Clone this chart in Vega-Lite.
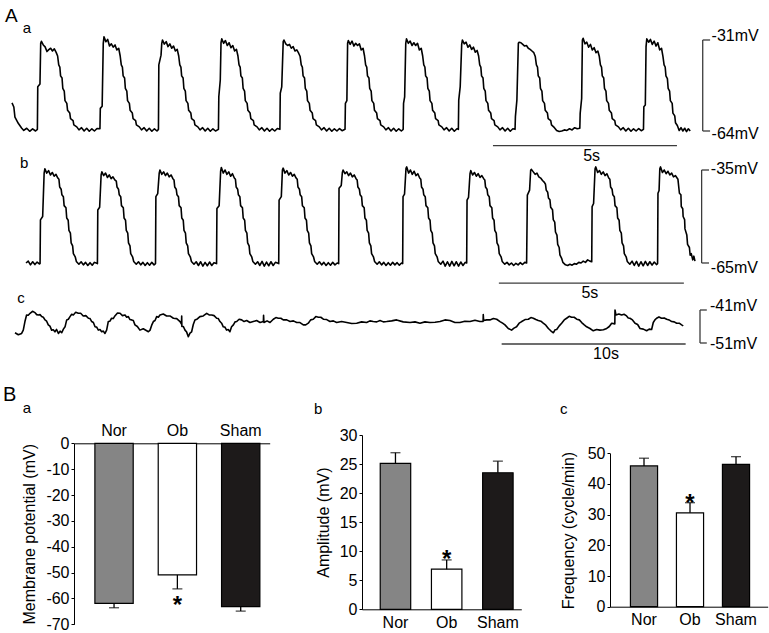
{
  "$schema": "https://vega.github.io/schema/vega-lite/v6.json",
  "padding": 0,
  "background": "white",
  "spacing": 0,
  "bounds": "flush",
  "config": {
    "view": {"stroke": null},
    "font": "Liberation Sans",
    "title": {"font": "Liberation Sans", "fontWeight": "normal", "color": "black", "anchor": "start", "baseline": "alphabetic", "frame": "group"},
    "axis": {"domainColor": "black", "tickColor": "black", "labelColor": "black", "titleColor": "black", "labelFont": "Liberation Sans", "titleFont": "Liberation Sans", "labelFontSize": 16, "titleFontSize": 16, "titleFontWeight": "normal", "tickSize": 3, "labelPadding": 2, "grid": false, "domainWidth": 1, "tickWidth": 1, "labelFlush": false, "labelOverlap": false, "labelBound": false},
    "text": {"font": "Liberation Sans", "color": "black"}
  },
  "datasets": {
    "traceA": [
      {"t":0,"v":-53.8},{"t":0.05,"v":-55.3},{"t":0.08,"v":-59.0},{"t":0.17,"v":-61.2},{"t":0.26,"v":-62.9},{"t":0.32,"v":-63.8},{"t":0.40,"v":-63.0},{"t":0.48,"v":-64.1},{"t":0.56,"v":-63.2},{"t":0.64,"v":-64.0},
      {"t":0.69,"v":-63.4},{"t":0.70,"v":-48.0},{"t":0.76,"v":-47.0},{"t":0.78,"v":-32.2},{"t":0.80,"v":-31.5},{"t":0.85,"v":-32.8},{"t":0.90,"v":-33.5},{"t":0.95,"v":-35.2},{"t":1.00,"v":-34.5},{"t":1.05,"v":-34.0},{"t":1.10,"v":-35.0},{"t":1.15,"v":-34.2},{"t":1.20,"v":-35.5},{"t":1.24,"v":-36.8},{"t":1.27,"v":-40.0},{"t":1.30,"v":-40.8},{"t":1.32,"v":-44.0},{"t":1.36,"v":-44.8},{"t":1.38,"v":-48.5},{"t":1.42,"v":-49.5},{"t":1.44,"v":-53.0},{"t":1.49,"v":-54.0},{"t":1.51,"v":-56.5},{"t":1.57,"v":-57.5},{"t":1.59,"v":-59.5},{"t":1.66,"v":-60.2},{"t":1.68,"v":-61.8},{"t":1.76,"v":-62.5},{"t":1.82,"v":-63.6},{"t":1.89,"v":-62.8},{"t":1.96,"v":-64.0},{"t":2.03,"v":-63.0},{"t":2.10,"v":-64.1},{"t":2.17,"v":-63.2},{"t":2.24,"v":-64.0},{"t":2.31,"v":-63.1},
      {"t":2.39,"v":-63.2},{"t":2.40,"v":-55.8},{"t":2.45,"v":-55.0},{"t":2.48,"v":-32.2},{"t":2.50,"v":-29.8},{"t":2.55,"v":-31.6},{"t":2.60,"v":-30.8},{"t":2.65,"v":-33.2},{"t":2.70,"v":-32.4},{"t":2.75,"v":-33.6},{"t":2.80,"v":-32.8},{"t":2.85,"v":-34.6},{"t":2.90,"v":-34.0},{"t":2.94,"v":-36.8},{"t":2.97,"v":-40.0},{"t":3.00,"v":-40.8},{"t":3.02,"v":-44.0},{"t":3.06,"v":-44.8},{"t":3.08,"v":-48.5},{"t":3.12,"v":-49.5},{"t":3.14,"v":-53.0},{"t":3.19,"v":-54.0},{"t":3.21,"v":-56.5},{"t":3.27,"v":-57.5},{"t":3.29,"v":-59.5},{"t":3.36,"v":-60.2},{"t":3.38,"v":-61.8},{"t":3.46,"v":-62.5},{"t":3.52,"v":-63.6},{"t":3.59,"v":-62.8},{"t":3.66,"v":-64.0},{"t":3.73,"v":-63.0},{"t":3.80,"v":-64.1},{"t":3.87,"v":-63.2},{"t":3.94,"v":-64.0},
      {"t":3.98,"v":-63.4},{"t":3.99,"v":-40.0},{"t":4.05,"v":-36.5},{"t":4.07,"v":-32.2},{"t":4.09,"v":-31.0},{"t":4.14,"v":-32.5},{"t":4.19,"v":-31.6},{"t":4.24,"v":-33.4},{"t":4.29,"v":-32.4},{"t":4.34,"v":-34.0},{"t":4.39,"v":-33.2},{"t":4.44,"v":-35.0},{"t":4.49,"v":-34.4},{"t":4.53,"v":-36.8},{"t":4.56,"v":-40.0},{"t":4.59,"v":-40.8},{"t":4.61,"v":-44.0},{"t":4.65,"v":-44.8},{"t":4.67,"v":-48.5},{"t":4.71,"v":-49.5},{"t":4.73,"v":-53.0},{"t":4.78,"v":-54.0},{"t":4.80,"v":-56.5},{"t":4.86,"v":-57.5},{"t":4.88,"v":-59.5},{"t":4.95,"v":-60.2},{"t":4.97,"v":-61.8},{"t":5.05,"v":-62.5},{"t":5.11,"v":-63.6},{"t":5.18,"v":-62.8},{"t":5.25,"v":-64.0},{"t":5.32,"v":-63.0},{"t":5.39,"v":-64.1},{"t":5.46,"v":-63.2},{"t":5.53,"v":-64.0},
      {"t":5.61,"v":-63.4},{"t":5.62,"v":-51.6},{"t":5.66,"v":-45.5},{"t":5.68,"v":-32.0},{"t":5.70,"v":-30.6},{"t":5.75,"v":-32.2},{"t":5.80,"v":-31.2},{"t":5.85,"v":-33.0},{"t":5.90,"v":-32.0},{"t":5.95,"v":-33.8},{"t":6.00,"v":-33.0},{"t":6.05,"v":-35.0},{"t":6.10,"v":-34.4},{"t":6.14,"v":-36.8},{"t":6.17,"v":-40.0},{"t":6.20,"v":-40.8},{"t":6.22,"v":-44.0},{"t":6.26,"v":-44.8},{"t":6.28,"v":-48.5},{"t":6.32,"v":-49.5},{"t":6.34,"v":-53.0},{"t":6.39,"v":-54.0},{"t":6.41,"v":-56.5},{"t":6.47,"v":-57.5},{"t":6.49,"v":-59.5},{"t":6.56,"v":-60.2},{"t":6.58,"v":-61.8},{"t":6.66,"v":-62.5},{"t":6.72,"v":-63.6},{"t":6.79,"v":-62.8},{"t":6.86,"v":-64.0},{"t":6.93,"v":-63.0},{"t":7.00,"v":-64.1},{"t":7.07,"v":-63.2},{"t":7.14,"v":-64.0},{"t":7.21,"v":-63.1},
      {"t":7.28,"v":-63.4},{"t":7.29,"v":-50.3},{"t":7.33,"v":-48.0},{"t":7.37,"v":-31.6},{"t":7.39,"v":-31.0},{"t":7.44,"v":-32.4},{"t":7.49,"v":-33.0},{"t":7.54,"v":-32.6},{"t":7.59,"v":-34.0},{"t":7.64,"v":-33.4},{"t":7.69,"v":-35.0},{"t":7.74,"v":-34.6},{"t":7.79,"v":-35.8},{"t":7.83,"v":-37.0},{"t":7.86,"v":-40.0},{"t":7.89,"v":-40.8},{"t":7.91,"v":-44.0},{"t":7.95,"v":-44.8},{"t":7.97,"v":-48.5},{"t":8.01,"v":-49.5},{"t":8.03,"v":-53.0},{"t":8.08,"v":-54.0},{"t":8.10,"v":-56.5},{"t":8.16,"v":-57.5},{"t":8.18,"v":-59.5},{"t":8.25,"v":-60.2},{"t":8.27,"v":-61.8},{"t":8.35,"v":-62.5},{"t":8.41,"v":-63.6},{"t":8.48,"v":-62.8},{"t":8.55,"v":-64.0},{"t":8.62,"v":-63.0},{"t":8.69,"v":-64.1},{"t":8.76,"v":-63.2},{"t":8.83,"v":-64.0},{"t":8.90,"v":-63.1},{"t":8.97,"v":-63.9},
      {"t":9.05,"v":-63.4},{"t":9.06,"v":-54.0},{"t":9.10,"v":-53.0},{"t":9.12,"v":-32.2},{"t":9.14,"v":-31.2},{"t":9.19,"v":-32.6},{"t":9.24,"v":-31.4},{"t":9.29,"v":-33.2},{"t":9.34,"v":-32.2},{"t":9.39,"v":-33.0},{"t":9.44,"v":-32.4},{"t":9.49,"v":-34.6},{"t":9.54,"v":-34.0},{"t":9.58,"v":-36.8},{"t":9.61,"v":-40.0},{"t":9.64,"v":-40.8},{"t":9.66,"v":-44.0},{"t":9.70,"v":-44.8},{"t":9.72,"v":-48.5},{"t":9.76,"v":-49.5},{"t":9.78,"v":-53.0},{"t":9.83,"v":-54.0},{"t":9.85,"v":-56.5},{"t":9.91,"v":-57.5},{"t":9.93,"v":-59.5},{"t":10.00,"v":-60.2},{"t":10.02,"v":-61.8},{"t":10.10,"v":-62.5},{"t":10.16,"v":-63.6},{"t":10.23,"v":-62.8},{"t":10.30,"v":-64.0},{"t":10.37,"v":-63.0},{"t":10.44,"v":-64.1},{"t":10.51,"v":-63.2},{"t":10.58,"v":-64.0},
      {"t":10.63,"v":-63.4},{"t":10.64,"v":-54.0},{"t":10.67,"v":-51.6},{"t":10.70,"v":-32.2},{"t":10.72,"v":-30.6},{"t":10.77,"v":-32.2},{"t":10.82,"v":-31.4},{"t":10.87,"v":-33.0},{"t":10.92,"v":-32.0},{"t":10.97,"v":-33.0},{"t":11.02,"v":-32.2},{"t":11.07,"v":-34.6},{"t":11.12,"v":-34.0},{"t":11.16,"v":-36.8},{"t":11.19,"v":-40.0},{"t":11.22,"v":-40.8},{"t":11.24,"v":-44.0},{"t":11.28,"v":-44.8},{"t":11.30,"v":-48.5},{"t":11.34,"v":-49.5},{"t":11.36,"v":-53.0},{"t":11.41,"v":-54.0},{"t":11.43,"v":-56.5},{"t":11.49,"v":-57.5},{"t":11.51,"v":-59.5},{"t":11.58,"v":-60.2},{"t":11.60,"v":-61.8},{"t":11.68,"v":-62.5},{"t":11.74,"v":-63.6},{"t":11.81,"v":-62.8},{"t":11.88,"v":-64.0},{"t":11.95,"v":-63.0},{"t":12.02,"v":-64.1},{"t":12.09,"v":-63.2},
      {"t":12.13,"v":-63.4},{"t":12.14,"v":-52.8},{"t":12.18,"v":-47.9},{"t":12.22,"v":-32.6},{"t":12.24,"v":-31.0},{"t":12.29,"v":-32.4},{"t":12.34,"v":-31.8},{"t":12.39,"v":-33.6},{"t":12.44,"v":-32.8},{"t":12.49,"v":-34.4},{"t":12.54,"v":-33.6},{"t":12.59,"v":-35.4},{"t":12.64,"v":-34.8},{"t":12.68,"v":-36.8},{"t":12.71,"v":-40.0},{"t":12.74,"v":-40.8},{"t":12.76,"v":-44.0},{"t":12.80,"v":-44.8},{"t":12.82,"v":-48.5},{"t":12.86,"v":-49.5},{"t":12.88,"v":-53.0},{"t":12.93,"v":-54.0},{"t":12.95,"v":-56.5},{"t":13.01,"v":-57.5},{"t":13.03,"v":-59.5},{"t":13.10,"v":-60.2},{"t":13.12,"v":-61.8},{"t":13.20,"v":-62.5},{"t":13.26,"v":-63.6},{"t":13.33,"v":-62.8},{"t":13.40,"v":-64.0},{"t":13.47,"v":-63.0},{"t":13.54,"v":-64.1},{"t":13.61,"v":-63.2},
      {"t":13.67,"v":-63.4},{"t":13.68,"v":-58.8},{"t":13.72,"v":-52.8},{"t":13.76,"v":-32.2},{"t":13.78,"v":-31.8},{"t":13.83,"v":-32.0},{"t":13.88,"v":-32.6},{"t":13.93,"v":-33.2},{"t":13.98,"v":-33.0},{"t":14.03,"v":-34.0},{"t":14.08,"v":-34.4},{"t":14.13,"v":-35.0},{"t":14.18,"v":-35.6},{"t":14.22,"v":-37.0},{"t":14.25,"v":-40.0},{"t":14.28,"v":-40.8},{"t":14.30,"v":-44.0},{"t":14.34,"v":-44.8},{"t":14.36,"v":-48.5},{"t":14.40,"v":-49.5},{"t":14.42,"v":-53.0},{"t":14.47,"v":-54.0},{"t":14.49,"v":-56.5},{"t":14.55,"v":-57.5},{"t":14.57,"v":-59.5},{"t":14.64,"v":-60.2},{"t":14.66,"v":-61.8},{"t":14.74,"v":-62.8},{"t":14.80,"v":-63.8},{"t":14.87,"v":-64.2},{"t":14.94,"v":-64.0},{"t":15.01,"v":-63.6},{"t":15.08,"v":-63.8},{"t":15.15,"v":-63.2},{"t":15.22,"v":-63.6},{"t":15.29,"v":-62.8},{"t":15.36,"v":-63.2},
      {"t":15.43,"v":-63.0},{"t":15.44,"v":-57.6},{"t":15.48,"v":-52.2},{"t":15.50,"v":-31.0},{"t":15.52,"v":-30.4},{"t":15.57,"v":-32.4},{"t":15.62,"v":-31.8},{"t":15.67,"v":-33.6},{"t":15.72,"v":-32.6},{"t":15.77,"v":-34.6},{"t":15.82,"v":-33.8},{"t":15.87,"v":-35.6},{"t":15.92,"v":-35.0},{"t":15.96,"v":-37.0},{"t":15.99,"v":-40.0},{"t":16.02,"v":-40.8},{"t":16.04,"v":-44.0},{"t":16.08,"v":-44.8},{"t":16.10,"v":-48.5},{"t":16.14,"v":-49.5},{"t":16.16,"v":-53.0},{"t":16.21,"v":-54.0},{"t":16.23,"v":-56.5},{"t":16.29,"v":-57.5},{"t":16.31,"v":-59.5},{"t":16.38,"v":-60.2},{"t":16.40,"v":-61.8},{"t":16.48,"v":-62.5},{"t":16.54,"v":-63.6},{"t":16.61,"v":-62.8},{"t":16.68,"v":-64.0},{"t":16.75,"v":-63.0},{"t":16.82,"v":-64.1},{"t":16.89,"v":-63.2},{"t":16.96,"v":-64.0},{"t":17.03,"v":-63.1},{"t":17.10,"v":-63.9},
      {"t":17.16,"v":-63.4},{"t":17.17,"v":-55.2},{"t":17.21,"v":-54.6},{"t":17.23,"v":-33.4},{"t":17.25,"v":-30.6},{"t":17.30,"v":-31.8},{"t":17.35,"v":-30.8},{"t":17.40,"v":-32.6},{"t":17.45,"v":-31.4},{"t":17.50,"v":-33.2},{"t":17.55,"v":-32.0},{"t":17.60,"v":-34.6},{"t":17.65,"v":-34.0},{"t":17.69,"v":-37.0},{"t":17.72,"v":-40.0},{"t":17.75,"v":-40.8},{"t":17.77,"v":-44.0},{"t":17.81,"v":-45.0},{"t":17.83,"v":-48.5},{"t":17.87,"v":-49.5},{"t":17.89,"v":-53.0},{"t":17.94,"v":-54.0},{"t":17.96,"v":-57.5},{"t":18.01,"v":-58.5},{"t":18.03,"v":-61.0},{"t":18.08,"v":-62.0},{"t":18.13,"v":-63.8},{"t":18.18,"v":-62.8},{"t":18.23,"v":-64.0},{"t":18.28,"v":-63.0},{"t":18.33,"v":-64.2},{"t":18.38,"v":-63.2},{"t":18.43,"v":-64.0}
    ],
    "traceB": [
      {"t":0,"v":-65.0},{"t":0.06,"v":-64.4},{"t":0.12,"v":-65.6},{"t":0.18,"v":-64.6},{"t":0.24,"v":-65.5},{"t":0.30,"v":-64.7},{"t":0.36,"v":-65.3},
      {"t":0.38,"v":-65.2},{"t":0.39,"v":-51.1},{"t":0.45,"v":-50.0},{"t":0.49,"v":-36.0},{"t":0.51,"v":-34.6},{"t":0.56,"v":-36.0},{"t":0.61,"v":-35.2},{"t":0.66,"v":-36.6},{"t":0.71,"v":-35.8},{"t":0.76,"v":-37.0},{"t":0.81,"v":-36.4},{"t":0.86,"v":-37.6},{"t":0.89,"v":-38.0},{"t":0.91,"v":-40.5},{"t":0.95,"v":-41.2},{"t":0.97,"v":-43.0},{"t":1.01,"v":-43.6},{"t":1.03,"v":-46.5},{"t":1.08,"v":-47.2},{"t":1.10,"v":-50.5},{"t":1.14,"v":-51.2},{"t":1.16,"v":-54.5},{"t":1.20,"v":-55.4},{"t":1.22,"v":-58.5},{"t":1.26,"v":-59.5},{"t":1.28,"v":-62.0},{"t":1.33,"v":-63.0},{"t":1.36,"v":-64.5},{"t":1.43,"v":-65.4},{"t":1.49,"v":-64.6},{"t":1.55,"v":-65.6},{"t":1.61,"v":-64.8},{"t":1.67,"v":-65.8},{"t":1.73,"v":-64.9},{"t":1.79,"v":-65.7},{"t":1.85,"v":-64.8},
      {"t":1.93,"v":-65.2},{"t":1.94,"v":-47.9},{"t":1.99,"v":-47.0},{"t":2.03,"v":-36.6},{"t":2.05,"v":-35.6},{"t":2.10,"v":-36.8},{"t":2.15,"v":-36.0},{"t":2.20,"v":-37.4},{"t":2.25,"v":-36.6},{"t":2.30,"v":-37.8},{"t":2.35,"v":-37.2},{"t":2.40,"v":-38.2},{"t":2.44,"v":-38.6},{"t":2.46,"v":-40.5},{"t":2.50,"v":-41.2},{"t":2.52,"v":-43.0},{"t":2.56,"v":-43.6},{"t":2.58,"v":-46.5},{"t":2.63,"v":-47.2},{"t":2.65,"v":-50.5},{"t":2.69,"v":-51.2},{"t":2.71,"v":-54.5},{"t":2.75,"v":-55.4},{"t":2.77,"v":-58.5},{"t":2.81,"v":-59.5},{"t":2.83,"v":-62.0},{"t":2.88,"v":-63.0},{"t":2.91,"v":-64.5},{"t":2.98,"v":-65.4},{"t":3.04,"v":-64.6},{"t":3.10,"v":-65.6},{"t":3.16,"v":-64.8},{"t":3.22,"v":-65.8},{"t":3.28,"v":-64.9},{"t":3.34,"v":-65.7},{"t":3.40,"v":-64.8},{"t":3.46,"v":-65.6},
      {"t":3.50,"v":-65.2},{"t":3.51,"v":-43.6},{"t":3.56,"v":-42.6},{"t":3.60,"v":-36.0},{"t":3.62,"v":-35.0},{"t":3.67,"v":-36.4},{"t":3.72,"v":-35.6},{"t":3.77,"v":-36.8},{"t":3.82,"v":-36.0},{"t":3.87,"v":-37.2},{"t":3.92,"v":-36.6},{"t":3.97,"v":-37.8},{"t":4.00,"v":-38.2},{"t":4.02,"v":-40.5},{"t":4.06,"v":-41.2},{"t":4.08,"v":-43.0},{"t":4.12,"v":-43.6},{"t":4.14,"v":-46.5},{"t":4.19,"v":-47.2},{"t":4.21,"v":-50.5},{"t":4.25,"v":-51.2},{"t":4.27,"v":-54.5},{"t":4.31,"v":-55.4},{"t":4.33,"v":-58.5},{"t":4.37,"v":-59.5},{"t":4.39,"v":-62.0},{"t":4.44,"v":-63.0},{"t":4.47,"v":-64.5},{"t":4.54,"v":-65.4},{"t":4.60,"v":-64.6},{"t":4.66,"v":-65.8},{"t":4.72,"v":-64.6},{"t":4.78,"v":-66.0},{"t":4.84,"v":-64.8},{"t":4.90,"v":-65.9},{"t":4.96,"v":-64.7},{"t":5.02,"v":-65.8},{"t":5.08,"v":-64.9},
      {"t":5.15,"v":-65.2},{"t":5.16,"v":-47.4},{"t":5.22,"v":-46.5},{"t":5.26,"v":-35.4},{"t":5.28,"v":-34.2},{"t":5.33,"v":-36.0},{"t":5.38,"v":-35.0},{"t":5.43,"v":-36.4},{"t":5.48,"v":-35.6},{"t":5.53,"v":-37.0},{"t":5.58,"v":-36.2},{"t":5.63,"v":-37.6},{"t":5.66,"v":-38.0},{"t":5.68,"v":-40.5},{"t":5.72,"v":-41.2},{"t":5.74,"v":-43.0},{"t":5.78,"v":-43.6},{"t":5.80,"v":-46.5},{"t":5.85,"v":-47.2},{"t":5.87,"v":-50.5},{"t":5.91,"v":-51.2},{"t":5.93,"v":-54.5},{"t":5.97,"v":-55.4},{"t":5.99,"v":-58.5},{"t":6.03,"v":-59.5},{"t":6.05,"v":-62.0},{"t":6.10,"v":-63.0},{"t":6.13,"v":-64.5},{"t":6.20,"v":-65.4},{"t":6.26,"v":-64.6},{"t":6.32,"v":-65.8},{"t":6.38,"v":-64.5},{"t":6.44,"v":-66.0},{"t":6.50,"v":-64.7},{"t":6.56,"v":-65.9},{"t":6.62,"v":-64.6},{"t":6.68,"v":-65.8},{"t":6.74,"v":-64.8},
      {"t":6.83,"v":-65.2},{"t":6.84,"v":-44.7},{"t":6.90,"v":-43.6},{"t":6.93,"v":-35.0},{"t":6.95,"v":-34.4},{"t":7.00,"v":-36.0},{"t":7.05,"v":-35.2},{"t":7.10,"v":-36.6},{"t":7.15,"v":-35.8},{"t":7.20,"v":-37.0},{"t":7.25,"v":-36.4},{"t":7.30,"v":-37.6},{"t":7.33,"v":-38.0},{"t":7.35,"v":-40.5},{"t":7.39,"v":-41.2},{"t":7.41,"v":-43.0},{"t":7.45,"v":-43.6},{"t":7.47,"v":-46.5},{"t":7.52,"v":-47.2},{"t":7.54,"v":-50.5},{"t":7.58,"v":-51.2},{"t":7.60,"v":-54.5},{"t":7.64,"v":-55.4},{"t":7.66,"v":-58.5},{"t":7.70,"v":-59.5},{"t":7.72,"v":-62.0},{"t":7.77,"v":-63.0},{"t":7.80,"v":-64.5},{"t":7.87,"v":-65.4},{"t":7.93,"v":-64.6},{"t":7.99,"v":-65.6},{"t":8.05,"v":-64.8},{"t":8.11,"v":-65.8},{"t":8.17,"v":-64.9},{"t":8.23,"v":-65.7},{"t":8.29,"v":-64.8},{"t":8.35,"v":-65.6},{"t":8.41,"v":-65.0},
      {"t":8.45,"v":-65.2},{"t":8.46,"v":-40.9},{"t":8.52,"v":-40.0},{"t":8.55,"v":-35.8},{"t":8.57,"v":-35.0},{"t":8.62,"v":-36.2},{"t":8.67,"v":-35.6},{"t":8.72,"v":-36.8},{"t":8.77,"v":-36.0},{"t":8.82,"v":-37.2},{"t":8.87,"v":-36.6},{"t":8.92,"v":-37.8},{"t":8.95,"v":-38.2},{"t":8.97,"v":-40.5},{"t":9.01,"v":-41.2},{"t":9.03,"v":-43.0},{"t":9.07,"v":-43.6},{"t":9.09,"v":-46.5},{"t":9.14,"v":-47.2},{"t":9.16,"v":-50.5},{"t":9.20,"v":-51.2},{"t":9.22,"v":-54.5},{"t":9.26,"v":-55.4},{"t":9.28,"v":-58.5},{"t":9.32,"v":-59.5},{"t":9.34,"v":-62.0},{"t":9.39,"v":-63.0},{"t":9.42,"v":-64.5},{"t":9.49,"v":-65.4},{"t":9.55,"v":-64.6},{"t":9.61,"v":-65.6},{"t":9.67,"v":-64.8},{"t":9.73,"v":-65.8},{"t":9.79,"v":-64.9},{"t":9.85,"v":-65.7},{"t":9.91,"v":-64.8},{"t":9.97,"v":-65.6},{"t":10.03,"v":-64.9},{"t":10.09,"v":-65.7},{"t":10.15,"v":-65.0},
      {"t":10.18,"v":-65.2},{"t":10.19,"v":-43.6},{"t":10.23,"v":-42.8},{"t":10.27,"v":-34.5},{"t":10.29,"v":-34.0},{"t":10.34,"v":-36.0},{"t":10.39,"v":-35.0},{"t":10.44,"v":-36.4},{"t":10.49,"v":-35.4},{"t":10.54,"v":-36.8},{"t":10.59,"v":-36.2},{"t":10.64,"v":-37.6},{"t":10.67,"v":-38.0},{"t":10.69,"v":-40.5},{"t":10.73,"v":-41.2},{"t":10.75,"v":-43.0},{"t":10.79,"v":-43.6},{"t":10.81,"v":-46.5},{"t":10.86,"v":-47.2},{"t":10.88,"v":-50.5},{"t":10.92,"v":-51.2},{"t":10.94,"v":-54.5},{"t":10.98,"v":-55.4},{"t":11.00,"v":-58.5},{"t":11.04,"v":-59.5},{"t":11.06,"v":-62.0},{"t":11.11,"v":-63.0},{"t":11.14,"v":-64.5},{"t":11.21,"v":-65.4},{"t":11.27,"v":-64.4},{"t":11.33,"v":-66.0},{"t":11.39,"v":-64.6},{"t":11.45,"v":-66.0},{"t":11.51,"v":-64.5},{"t":11.57,"v":-65.9},{"t":11.63,"v":-64.6},{"t":11.69,"v":-66.0},{"t":11.75,"v":-64.7},{"t":11.81,"v":-65.8},{"t":11.87,"v":-64.8},
      {"t":11.91,"v":-65.0},{"t":11.92,"v":-44.7},{"t":11.96,"v":-43.8},{"t":12.00,"v":-36.2},{"t":12.02,"v":-35.2},{"t":12.07,"v":-36.6},{"t":12.12,"v":-35.8},{"t":12.17,"v":-37.0},{"t":12.22,"v":-36.2},{"t":12.27,"v":-37.4},{"t":12.32,"v":-36.8},{"t":12.37,"v":-37.8},{"t":12.40,"v":-38.2},{"t":12.42,"v":-40.5},{"t":12.46,"v":-41.2},{"t":12.48,"v":-43.0},{"t":12.52,"v":-43.6},{"t":12.54,"v":-46.5},{"t":12.59,"v":-47.2},{"t":12.61,"v":-50.5},{"t":12.65,"v":-51.2},{"t":12.67,"v":-54.5},{"t":12.71,"v":-55.4},{"t":12.73,"v":-58.5},{"t":12.77,"v":-59.5},{"t":12.79,"v":-62.0},{"t":12.84,"v":-63.0},{"t":12.87,"v":-64.5},{"t":12.94,"v":-65.4},{"t":13.00,"v":-64.8},{"t":13.06,"v":-65.6},{"t":13.12,"v":-65.0},{"t":13.18,"v":-65.8},{"t":13.24,"v":-65.1},{"t":13.30,"v":-65.6},{"t":13.36,"v":-64.9},{"t":13.42,"v":-65.5},{"t":13.48,"v":-64.8},
      {"t":13.53,"v":-65.0},{"t":13.55,"v":-43.1},{"t":13.61,"v":-41.5},{"t":13.64,"v":-35.0},{"t":13.66,"v":-34.8},{"t":13.71,"v":-35.6},{"t":13.76,"v":-36.4},{"t":13.81,"v":-36.0},{"t":13.86,"v":-37.2},{"t":13.91,"v":-37.6},{"t":13.96,"v":-38.4},{"t":14.01,"v":-39.0},{"t":14.04,"v":-39.6},{"t":14.06,"v":-41.5},{"t":14.10,"v":-42.2},{"t":14.12,"v":-44.0},{"t":14.16,"v":-44.6},{"t":14.18,"v":-47.0},{"t":14.23,"v":-47.8},{"t":14.25,"v":-51.0},{"t":14.29,"v":-51.8},{"t":14.31,"v":-55.0},{"t":14.35,"v":-56.0},{"t":14.37,"v":-59.0},{"t":14.41,"v":-60.0},{"t":14.43,"v":-62.4},{"t":14.48,"v":-63.6},{"t":14.51,"v":-64.8},{"t":14.58,"v":-65.6},{"t":14.64,"v":-65.8},{"t":14.70,"v":-65.4},{"t":14.76,"v":-65.7},{"t":14.82,"v":-65.2},{"t":14.88,"v":-65.4},{"t":14.94,"v":-64.8},{"t":15.00,"v":-65.0},{"t":15.06,"v":-64.4},{"t":15.12,"v":-64.8},{"t":15.18,"v":-64.0},{"t":15.24,"v":-64.4},
      {"t":15.29,"v":-64.6},{"t":15.30,"v":-46.8},{"t":15.34,"v":-45.8},{"t":15.38,"v":-34.6},{"t":15.40,"v":-34.0},{"t":15.45,"v":-35.8},{"t":15.50,"v":-35.2},{"t":15.55,"v":-36.4},{"t":15.60,"v":-35.6},{"t":15.65,"v":-36.8},{"t":15.70,"v":-36.2},{"t":15.75,"v":-37.6},{"t":15.78,"v":-38.0},{"t":15.80,"v":-40.5},{"t":15.84,"v":-41.2},{"t":15.86,"v":-43.0},{"t":15.90,"v":-43.6},{"t":15.92,"v":-46.5},{"t":15.97,"v":-47.2},{"t":15.99,"v":-50.5},{"t":16.03,"v":-51.2},{"t":16.05,"v":-54.5},{"t":16.09,"v":-55.4},{"t":16.11,"v":-58.5},{"t":16.15,"v":-59.5},{"t":16.17,"v":-62.0},{"t":16.22,"v":-63.0},{"t":16.25,"v":-64.5},{"t":16.32,"v":-65.4},{"t":16.38,"v":-64.4},{"t":16.44,"v":-65.8},{"t":16.50,"v":-64.5},{"t":16.56,"v":-66.0},{"t":16.62,"v":-64.6},{"t":16.68,"v":-65.9},{"t":16.74,"v":-64.5},{"t":16.80,"v":-65.8},{"t":16.86,"v":-64.6},{"t":16.92,"v":-65.7},{"t":16.98,"v":-64.7},{"t":17.04,"v":-65.5},
      {"t":17.07,"v":-65.2},{"t":17.08,"v":-42.5},{"t":17.11,"v":-41.6},{"t":17.13,"v":-34.6},{"t":17.15,"v":-34.0},{"t":17.20,"v":-35.8},{"t":17.25,"v":-35.0},{"t":17.30,"v":-36.2},{"t":17.35,"v":-35.4},{"t":17.40,"v":-36.6},{"t":17.45,"v":-36.0},{"t":17.50,"v":-37.2},{"t":17.55,"v":-36.8},{"t":17.62,"v":-38.0},{"t":17.66,"v":-42.5},{"t":17.70,"v":-43.0},{"t":17.71,"v":-46.8},{"t":17.75,"v":-47.5},{"t":17.76,"v":-50.0},{"t":17.80,"v":-51.0},{"t":17.81,"v":-54.0},{"t":17.86,"v":-56.0},{"t":17.88,"v":-59.0},{"t":17.93,"v":-60.0},{"t":17.95,"v":-62.5},{"t":17.98,"v":-62.0},{"t":18.02,"v":-64.0},{"t":18.05,"v":-62.8},{"t":18.08,"v":-64.4}
    ],
    "traceC": [
      {"t":0,"v":-47.9},{"t":0.18,"v":-48.5},{"t":0.36,"v":-48.1},{"t":0.45,"v":-47.1},{"t":0.54,"v":-44.5},{"t":0.63,"v":-42.5},{"t":0.72,"v":-42.6},{"t":0.82,"v":-42.0},{"t":0.95,"v":-41.4},{"t":1.09,"v":-41.8},{"t":1.18,"v":-42.4},{"t":1.27,"v":-42.5},{"t":1.36,"v":-42.4},{"t":1.45,"v":-43.0},{"t":1.54,"v":-43.2},{"t":1.63,"v":-44.0},{"t":1.72,"v":-44.4},{"t":1.81,"v":-45.5},{"t":1.90,"v":-45.9},{"t":1.99,"v":-47.1},{"t":2.08,"v":-47.0},{"t":2.17,"v":-47.6},{"t":2.26,"v":-46.9},{"t":2.36,"v":-48.1},{"t":2.45,"v":-47.4},{"t":2.54,"v":-47.9},{"t":2.63,"v":-46.8},{"t":2.72,"v":-46.1},{"t":2.81,"v":-44.0},{"t":2.90,"v":-43.8},{"t":2.99,"v":-43.0},{"t":3.08,"v":-42.3},{"t":3.17,"v":-42.5},{"t":3.30,"v":-41.7},{"t":3.44,"v":-42.0},{"t":3.57,"v":-42.0},{"t":3.71,"v":-42.8},{"t":3.85,"v":-42.7},{"t":3.99,"v":-43.5},{"t":4.08,"v":-43.6},{"t":4.17,"v":-44.5},{"t":4.26,"v":-44.8},{"t":4.35,"v":-46.1},{"t":4.44,"v":-46.2},{"t":4.53,"v":-47.1},{"t":4.62,"v":-46.9},{"t":4.71,"v":-47.6},{"t":4.80,"v":-47.4},{"t":4.89,"v":-48.1},{"t":4.98,"v":-47.1},{"t":5.07,"v":-44.5},{"t":5.16,"v":-44.4},{"t":5.25,"v":-43.5},{"t":5.34,"v":-43.6},{"t":5.43,"v":-42.8},{"t":5.57,"v":-41.9},{"t":5.71,"v":-42.0},{"t":5.84,"v":-42.7},{"t":5.98,"v":-42.5},{"t":6.07,"v":-43.2},{"t":6.16,"v":-43.0},{"t":6.25,"v":-43.9},{"t":6.34,"v":-44.0},{"t":6.43,"v":-44.2},{"t":6.52,"v":-45.5},{"t":6.65,"v":-46.0},{"t":6.79,"v":-47.1},{"t":6.97,"v":-46.7},{"t":7.16,"v":-47.3},{"t":7.25,"v":-47.6},{"t":7.34,"v":-47.1},{"t":7.43,"v":-45.6},{"t":7.52,"v":-44.5},{"t":7.61,"v":-44.2},{"t":7.70,"v":-43.0},{"t":7.79,"v":-43.2},{"t":7.88,"v":-42.5},{"t":8.06,"v":-42.2},{"t":8.24,"v":-42.8},{"t":8.42,"v":-42.8},{"t":8.61,"v":-43.5},{"t":8.79,"v":-43.6},{"t":8.97,"v":-44.5},{"t":9.05,"v":-45.3},{"t":9.06,"v":-42.8},{"t":9.07,"v":-46.0},{"t":9.15,"v":-46.0},{"t":9.24,"v":-47.1},{"t":9.33,"v":-47.7},{"t":9.42,"v":-49.1},{"t":9.51,"v":-48.0},{"t":9.60,"v":-47.6},{"t":9.69,"v":-45.4},{"t":9.78,"v":-44.0},{"t":9.91,"v":-43.7},{"t":10.05,"v":-43.0},{"t":10.23,"v":-42.8},{"t":10.42,"v":-42.0},{"t":10.55,"v":-42.5},{"t":10.69,"v":-42.5},{"t":10.82,"v":-42.7},{"t":10.96,"v":-43.5},{"t":11.05,"v":-43.6},{"t":11.14,"v":-44.5},{"t":11.23,"v":-45.0},{"t":11.32,"v":-46.1},{"t":11.41,"v":-46.2},{"t":11.50,"v":-47.1},{"t":11.59,"v":-46.9},{"t":11.68,"v":-47.6},{"t":11.77,"v":-46.1},{"t":11.87,"v":-45.5},{"t":11.96,"v":-44.6},{"t":12.05,"v":-44.5},{"t":12.18,"v":-43.8},{"t":12.32,"v":-44.0},{"t":12.45,"v":-44.5},{"t":12.59,"v":-44.2},{"t":12.77,"v":-44.8},{"t":12.95,"v":-44.5},{"t":13.13,"v":-44.2},{"t":13.32,"v":-44.8},{"t":13.50,"v":-44.5},{"t":13.51,"v":-42.6},{"t":13.53,"v":-44.8},{"t":13.70,"v":-44.3},{"t":13.86,"v":-44.8},{"t":14.04,"v":-43.8},{"t":14.18,"v":-43.3},{"t":14.31,"v":-43.5},{"t":14.45,"v":-43.5},{"t":14.58,"v":-44.0},{"t":14.77,"v":-44.0},{"t":14.95,"v":-44.5},{"t":15.13,"v":-44.3},{"t":15.31,"v":-44.8},{"t":15.49,"v":-44.8},{"t":15.67,"v":-45.5},{"t":15.80,"v":-45.5},{"t":15.94,"v":-45.0},{"t":16.07,"v":-44.0},{"t":16.21,"v":-43.8},{"t":16.35,"v":-43.0},{"t":16.49,"v":-43.2},{"t":16.62,"v":-43.2},{"t":16.76,"v":-43.8},{"t":16.94,"v":-43.9},{"t":17.12,"v":-44.5},{"t":17.30,"v":-44.3},{"t":17.48,"v":-44.8},{"t":17.75,"v":-44.5},{"t":18.03,"v":-44.8},{"t":18.30,"v":-45.1},{"t":18.57,"v":-45.0},{"t":18.84,"v":-44.6},{"t":19.11,"v":-44.8},{"t":19.29,"v":-44.3},{"t":19.47,"v":-44.5},{"t":19.66,"v":-44.6},{"t":19.84,"v":-44.2},{"t":20.02,"v":-44.6},{"t":20.20,"v":-44.5},{"t":20.47,"v":-44.3},{"t":20.74,"v":-44.0},{"t":21.10,"v":-44.6},{"t":21.47,"v":-44.8},{"t":21.74,"v":-44.6},{"t":22.01,"v":-45.0},{"t":22.28,"v":-44.6},{"t":22.55,"v":-44.8},{"t":22.83,"v":-44.7},{"t":23.10,"v":-44.5},{"t":23.37,"v":-44.0},{"t":23.64,"v":-44.2},{"t":23.91,"v":-44.8},{"t":24.18,"v":-44.8},{"t":24.45,"v":-44.4},{"t":24.73,"v":-44.5},{"t":25.00,"v":-44.1},{"t":25.27,"v":-44.5},{"t":25.44,"v":-44.5},{"t":25.45,"v":-42.4},{"t":25.47,"v":-44.2},{"t":25.64,"v":-44.0},{"t":25.81,"v":-44.0},{"t":26.00,"v":-43.6},{"t":26.18,"v":-43.8},{"t":26.36,"v":-44.5},{"t":26.50,"v":-45.0},{"t":26.63,"v":-45.5},{"t":26.81,"v":-46.6},{"t":26.99,"v":-47.1},{"t":27.12,"v":-46.5},{"t":27.26,"v":-46.1},{"t":27.40,"v":-45.0},{"t":27.54,"v":-44.5},{"t":27.72,"v":-43.9},{"t":27.90,"v":-43.8},{"t":28.04,"v":-43.3},{"t":28.17,"v":-43.5},{"t":28.31,"v":-43.9},{"t":28.44,"v":-44.2},{"t":28.58,"v":-44.4},{"t":28.71,"v":-45.0},{"t":28.85,"v":-45.6},{"t":28.99,"v":-46.6},{"t":29.12,"v":-47.3},{"t":29.26,"v":-47.9},{"t":29.35,"v":-47.0},{"t":29.44,"v":-46.9},{"t":29.58,"v":-45.8},{"t":29.71,"v":-45.0},{"t":29.85,"v":-44.0},{"t":29.98,"v":-43.5},{"t":30.12,"v":-42.9},{"t":30.25,"v":-43.2},{"t":30.39,"v":-43.2},{"t":30.53,"v":-43.8},{"t":30.67,"v":-44.0},{"t":30.80,"v":-44.8},{"t":30.94,"v":-45.5},{"t":31.07,"v":-46.1},{"t":31.25,"v":-46.6},{"t":31.43,"v":-47.3},{"t":31.61,"v":-46.9},{"t":31.79,"v":-47.1},{"t":31.98,"v":-47.0},{"t":32.16,"v":-46.6},{"t":32.30,"v":-46.0},{"t":32.43,"v":-45.0},{"t":32.60,"v":-45.2},{"t":32.61,"v":-41.0},{"t":32.66,"v":-42.5},{"t":32.82,"v":-42.2},{"t":32.97,"v":-42.5},{"t":33.10,"v":-42.3},{"t":33.24,"v":-42.8},{"t":33.33,"v":-43.4},{"t":33.42,"v":-43.5},{"t":33.56,"v":-44.0},{"t":33.70,"v":-45.0},{"t":33.84,"v":-45.4},{"t":33.97,"v":-46.6},{"t":34.15,"v":-46.8},{"t":34.33,"v":-47.3},{"t":34.47,"v":-46.8},{"t":34.60,"v":-46.9},{"t":34.69,"v":-44.8},{"t":34.78,"v":-44.0},{"t":34.87,"v":-43.5},{"t":35.00,"v":-43.1},{"t":35.14,"v":-43.5},{"t":35.28,"v":-43.4},{"t":35.42,"v":-43.8},{"t":35.55,"v":-44.0},{"t":35.69,"v":-44.5},{"t":35.83,"v":-44.6},{"t":35.96,"v":-45.0},{"t":36.10,"v":-45.0},{"t":36.23,"v":-45.5},{"t":36.32,"v":-45.8}
    ],
    "scaleA": [
      {"t":13.07,"t2":18.07,"v":-69.3,"v2":-69.3},
      {"t":18.77,"t2":18.77,"v":-31,"v2":-64},
      {"t":18.77,"t2":18.97,"v":-31,"v2":-31},
      {"t":18.77,"t2":18.97,"v":-64,"v2":-64}
    ],
    "scaleB": [
      {"t":12.78,"t2":17.78,"v":-71.5,"v2":-71.5},
      {"t":18.26,"t2":18.26,"v":-35,"v2":-65},
      {"t":18.26,"t2":18.46,"v":-35,"v2":-35},
      {"t":18.26,"t2":18.46,"v":-65,"v2":-65}
    ],
    "scaleC": [
      {"t":26.45,"t2":36.45,"v":-51.3,"v2":-51.3},
      {"t":37.23,"t2":37.23,"v":-41,"v2":-51},
      {"t":37.23,"t2":37.6,"v":-41,"v2":-41},
      {"t":37.23,"t2":37.6,"v":-51,"v2":-51}
    ],
    "Ba": [
      {"group":"Nor","mean":-61.9,"lim":-63.6,"sig":""},
      {"group":"Ob","mean":-50.9,"lim":-56.3,"sig":"*"},
      {"group":"Sham","mean":-63.2,"lim":-64.9,"sig":""}
    ],
    "Bb": [
      {"group":"Nor","mean":25.1,"lim":26.95,"sig":""},
      {"group":"Ob","mean":6.9,"lim":8.5,"sig":"*"},
      {"group":"Sham","mean":23.5,"lim":25.5,"sig":""}
    ],
    "Bc": [
      {"group":"Nor","mean":45.9,"lim":48.4,"sig":""},
      {"group":"Ob","mean":30.6,"lim":33.9,"sig":"*"},
      {"group":"Sham","mean":46.4,"lim":48.9,"sig":""}
    ],
    "one": [{}]
  },
  "vconcat": [
    {
      "width": 769, "height": 162,
      "layer": [
        {"data": {"name": "traceA"}, "mark": {"type": "line", "color": "black", "strokeWidth": 1.6, "strokeJoin": "round"},
         "encoding": {"x": {"field": "t", "type": "quantitative", "scale": {"domain": [-0.326, 20.571], "nice": false, "zero": false}, "axis": null},
                      "y": {"field": "v", "type": "quantitative", "scale": {"domain": [-75.24, -16.5], "nice": false, "zero": false}, "axis": null}}},
        {"data": {"name": "scaleA"}, "mark": {"type": "rule", "color": "#3c3c3c", "strokeWidth": 1.3},
         "encoding": {"x": {"field": "t", "type": "quantitative"}, "x2": {"field": "t2"}, "y": {"field": "v", "type": "quantitative"}, "y2": {"field": "v2"}}},
        {"data": {"values": [{"label": "5s", "t": 15.75, "v": -73.06}]}, "mark": {"type": "text", "fontSize": 16, "align": "center", "baseline": "middle"},
         "encoding": {"x": {"field": "t", "type": "quantitative"}, "y": {"field": "v", "type": "quantitative"}, "text": {"field": "label"}}},
        {"data": {"values": [{"label": "-31mV", "t": 19.01, "v": -29.5}, {"label": "-64mV", "t": 19.01, "v": -65.1}]}, "mark": {"type": "text", "fontSize": 16, "align": "left", "baseline": "middle"},
         "encoding": {"x": {"field": "t", "type": "quantitative"}, "y": {"field": "v", "type": "quantitative"}, "text": {"field": "label"}}},
        {"data": {"name": "one"}, "mark": {"type": "text", "fontSize": 19, "align": "left", "baseline": "alphabetic"},
         "encoding": {"x": {"datum": -0.19, "type": "quantitative"}, "y": {"datum": -24.47, "type": "quantitative"}, "text": {"value": "A"}}},
        {"data": {"name": "one"}, "mark": {"type": "text", "fontSize": 15, "align": "left", "baseline": "alphabetic"},
         "encoding": {"x": {"datum": 0.29, "type": "quantitative"}, "y": {"datum": -28.57, "type": "quantitative"}, "text": {"value": "a"}}}
      ]
    },
    {
      "width": 769, "height": 138,
      "layer": [
        {"data": {"name": "traceB"}, "mark": {"type": "line", "color": "black", "strokeWidth": 1.6, "strokeJoin": "round"},
         "encoding": {"x": {"field": "t", "type": "quantitative", "scale": {"domain": [-0.703, 20.081], "nice": false, "zero": false}, "axis": null},
                      "y": {"field": "v", "type": "quantitative", "scale": {"domain": [-76.94, -32.42], "nice": false, "zero": false}, "axis": null}}},
        {"data": {"name": "scaleB"}, "mark": {"type": "rule", "color": "#3c3c3c", "strokeWidth": 1.3},
         "encoding": {"x": {"field": "t", "type": "quantitative"}, "x2": {"field": "t2"}, "y": {"field": "v", "type": "quantitative"}, "y2": {"field": "v2"}}},
        {"data": {"values": [{"label": "5s", "t": 15.24, "v": -74.68}]}, "mark": {"type": "text", "fontSize": 16, "align": "center", "baseline": "middle"},
         "encoding": {"x": {"field": "t", "type": "quantitative"}, "y": {"field": "v", "type": "quantitative"}, "text": {"field": "label"}}},
        {"data": {"values": [{"label": "-35mV", "t": 18.51, "v": -34.8}, {"label": "-65mV", "t": 18.51, "v": -66.5}]}, "mark": {"type": "text", "fontSize": 16, "align": "left", "baseline": "middle"},
         "encoding": {"x": {"field": "t", "type": "quantitative"}, "y": {"field": "v", "type": "quantitative"}, "text": {"field": "label"}}},
        {"data": {"name": "one"}, "mark": {"type": "text", "fontSize": 15, "align": "left", "baseline": "alphabetic"},
         "encoding": {"x": {"datum": -0.16, "type": "quantitative"}, "y": {"datum": -34.35, "type": "quantitative"}, "text": {"value": "b"}}}
      ]
    },
    {
      "width": 769, "height": 135,
      "layer": [
        {"data": {"name": "traceC"}, "mark": {"type": "line", "color": "black", "strokeWidth": 1.6, "strokeJoin": "round"},
         "encoding": {"x": {"field": "t", "type": "quantitative", "scale": {"domain": [-0.815, 40.98], "nice": false, "zero": false}, "axis": null},
                      "y": {"field": "v", "type": "quantitative", "scale": {"domain": [-78.88, -37.97], "nice": false, "zero": false}, "axis": null}}},
        {"data": {"name": "scaleC"}, "mark": {"type": "rule", "color": "#3c3c3c", "strokeWidth": 1.3},
         "encoding": {"x": {"field": "t", "type": "quantitative"}, "x2": {"field": "t2"}, "y": {"field": "v", "type": "quantitative"}, "y2": {"field": "v2"}}},
        {"data": {"values": [{"label": "10s", "t": 32.12, "v": -54.33}]}, "mark": {"type": "text", "fontSize": 16, "align": "center", "baseline": "middle"},
         "encoding": {"x": {"field": "t", "type": "quantitative"}, "y": {"field": "v", "type": "quantitative"}, "text": {"field": "label"}}},
        {"data": {"values": [{"label": "-41mV", "t": 37.77, "v": -39.8}, {"label": "-51mV", "t": 37.77, "v": -51.3}]}, "mark": {"type": "text", "fontSize": 16, "align": "left", "baseline": "middle"},
         "encoding": {"x": {"field": "t", "type": "quantitative"}, "y": {"field": "v", "type": "quantitative"}, "text": {"field": "label"}}},
        {"data": {"name": "one"}, "mark": {"type": "text", "fontSize": 15, "align": "left", "baseline": "alphabetic"},
         "encoding": {"x": {"datum": 0.125, "type": "quantitative"}, "y": {"datum": -38.97, "type": "quantitative"}, "text": {"value": "c"}}}
      ]
    },
    {
      "hconcat": [
        {"width": 20, "height": 10, "data": {"values": []}, "mark": "point", "encoding": {},
         "title": {"text": "B", "fontSize": 20, "offset": 30, "dx": 3}},
        {"width": 53.3, "height": 10, "data": {"values": []}, "mark": "point", "encoding": {},
         "title": {"text": "a", "fontSize": 15, "offset": 19, "dx": 2.7}},
        {
          "width": 195.7, "height": 189.3,
          "data": {"name": "Ba"},
          "encoding": {
            "x": {"field": "group", "type": "nominal", "sort": ["Nor", "Ob", "Sham"],
                  "scale": {"paddingInner": 0.395, "paddingOuter": 0.2425, "align": 0.68},
                  "axis": {"orient": "top", "title": null, "labelAngle": 0, "ticks": false, "tickSize": 0, "labelPadding": 5, "offset": -8.3}}
          },
          "layer": [
            {"mark": {"type": "bar", "stroke": "black", "strokeWidth": 1.2},
             "encoding": {"y": {"field": "mean", "type": "quantitative", "scale": {"domain": [-70, 0], "nice": false, "range": [189.3, 8.3]},
                                "axis": {"values": [0, -10, -20, -30, -40, -50, -60, -70], "labelExpr": "toString(datum.value)", "title": "Membrane potential (mV)", "titlePadding": 8, "labelOverlap": false, "labelSeparation": 0}},
                          "fill": {"field": "group", "type": "nominal", "scale": {"domain": ["Nor", "Ob", "Sham"], "range": ["#858585", "#ffffff", "#1d1a1a"]}, "legend": null}}},
            {"mark": {"type": "rule", "color": "black", "strokeWidth": 1.3},
             "encoding": {"y": {"field": "mean", "type": "quantitative", "axis": {"values": [0, -10, -20, -30, -40, -50, -60, -70], "labelExpr": "toString(datum.value)", "title": "Membrane potential (mV)", "titlePadding": 8, "labelOverlap": false, "labelSeparation": 0}}, "y2": {"field": "lim"}}},
            {"mark": {"type": "tick", "color": "black", "thickness": 1.3, "size": 10},
             "encoding": {"y": {"field": "lim", "type": "quantitative", "axis": {"values": [0, -10, -20, -30, -40, -50, -60, -70], "labelExpr": "toString(datum.value)", "title": "Membrane potential (mV)", "titlePadding": 8, "labelOverlap": false, "labelSeparation": 0}}}},
            {"mark": {"type": "text", "fontSize": 24, "fontWeight": "bold", "baseline": "alphabetic", "dy": 24},
             "encoding": {"y": {"field": "lim", "type": "quantitative", "axis": {"values": [0, -10, -20, -30, -40, -50, -60, -70], "labelExpr": "toString(datum.value)", "title": "Membrane potential (mV)", "titlePadding": 8, "labelOverlap": false, "labelSeparation": 0}}, "text": {"field": "sig"}}}
          ]
        },
        {"width": 91.7, "height": 10, "data": {"values": []}, "mark": "point", "encoding": {},
         "title": {"text": "b", "fontSize": 15, "offset": 18, "dx": 44}},
        {
          "width": 159.3, "height": 174.3,
          "data": {"name": "Bb"},
          "encoding": {
            "x": {"field": "group", "type": "nominal", "sort": ["Nor", "Ob", "Sham"],
                  "scale": {"paddingInner": 0.405, "paddingOuter": 0.258, "align": 0.69},
                  "axis": {"orient": "bottom", "title": null, "labelAngle": 0, "ticks": false, "tickSize": 0, "labelPadding": 5}}
          },
          "layer": [
            {"mark": {"type": "bar", "stroke": "black", "strokeWidth": 1.2},
             "encoding": {"y": {"field": "mean", "type": "quantitative", "scale": {"domain": [0, 30], "nice": false},
                                "axis": {"values": [0, 5, 10, 15, 20, 25, 30], "title": "Amplitude (mV)", "titlePadding": 8, "labelOverlap": false, "labelSeparation": 0}},
                          "fill": {"field": "group", "type": "nominal", "scale": {"domain": ["Nor", "Ob", "Sham"], "range": ["#858585", "#ffffff", "#1d1a1a"]}, "legend": null}}},
            {"mark": {"type": "rule", "color": "black", "strokeWidth": 1.3},
             "encoding": {"y": {"field": "mean", "type": "quantitative", "axis": {"values": [0, 5, 10, 15, 20, 25, 30], "title": "Amplitude (mV)", "titlePadding": 8, "labelOverlap": false, "labelSeparation": 0}}, "y2": {"field": "lim"}}},
            {"mark": {"type": "tick", "color": "black", "thickness": 1.3, "size": 10},
             "encoding": {"y": {"field": "lim", "type": "quantitative", "axis": {"values": [0, 5, 10, 15, 20, 25, 30], "title": "Amplitude (mV)", "titlePadding": 8, "labelOverlap": false, "labelSeparation": 0}}}},
            {"mark": {"type": "text", "fontSize": 24, "fontWeight": "bold", "baseline": "alphabetic", "dy": 7},
             "encoding": {"y": {"field": "lim", "type": "quantitative", "axis": {"values": [0, 5, 10, 15, 20, 25, 30], "title": "Amplitude (mV)", "titlePadding": 8, "labelOverlap": false, "labelSeparation": 0}}, "text": {"field": "sig"}}}
          ]
        },
        {"width": 87.3, "height": 10, "data": {"values": []}, "mark": "point", "encoding": {},
         "title": {"text": "c", "fontSize": 15, "offset": 18, "dx": 38}},
        {
          "width": 157.7, "height": 171.7,
          "data": {"name": "Bc"},
          "encoding": {
            "x": {"field": "group", "type": "nominal", "sort": ["Nor", "Ob", "Sham"],
                  "scale": {"paddingInner": 0.41, "paddingOuter": 0.419, "align": 0.53},
                  "axis": {"orient": "bottom", "title": null, "labelAngle": 0, "ticks": false, "tickSize": 0, "labelPadding": 5}}
          },
          "layer": [
            {"mark": {"type": "bar", "stroke": "black", "strokeWidth": 1.2},
             "encoding": {"y": {"field": "mean", "type": "quantitative", "scale": {"domain": [0, 50], "nice": false, "range": [171.7, 18.3]},
                                "axis": {"values": [0, 10, 20, 30, 40, 50], "title": "Frequency (cycle/min)", "titlePadding": 11, "labelOverlap": false, "labelSeparation": 0}},
                          "fill": {"field": "group", "type": "nominal", "scale": {"domain": ["Nor", "Ob", "Sham"], "range": ["#858585", "#ffffff", "#1d1a1a"]}, "legend": null}}},
            {"mark": {"type": "rule", "color": "black", "strokeWidth": 1.3},
             "encoding": {"y": {"field": "mean", "type": "quantitative", "axis": {"values": [0, 10, 20, 30, 40, 50], "title": "Frequency (cycle/min)", "titlePadding": 11, "labelOverlap": false, "labelSeparation": 0}}, "y2": {"field": "lim"}}},
            {"mark": {"type": "tick", "color": "black", "thickness": 1.3, "size": 10},
             "encoding": {"y": {"field": "lim", "type": "quantitative", "axis": {"values": [0, 10, 20, 30, 40, 50], "title": "Frequency (cycle/min)", "titlePadding": 11, "labelOverlap": false, "labelSeparation": 0}}}},
            {"mark": {"type": "text", "fontSize": 24, "fontWeight": "bold", "baseline": "alphabetic", "dy": 8},
             "encoding": {"y": {"field": "lim", "type": "quantitative", "axis": {"values": [0, 10, 20, 30, 40, 50], "title": "Frequency (cycle/min)", "titlePadding": 11, "labelOverlap": false, "labelSeparation": 0}}, "text": {"field": "sig"}}}
          ]
        }
      ],
      "spacing": 0, "bounds": "flush"
    }
  ]
}
